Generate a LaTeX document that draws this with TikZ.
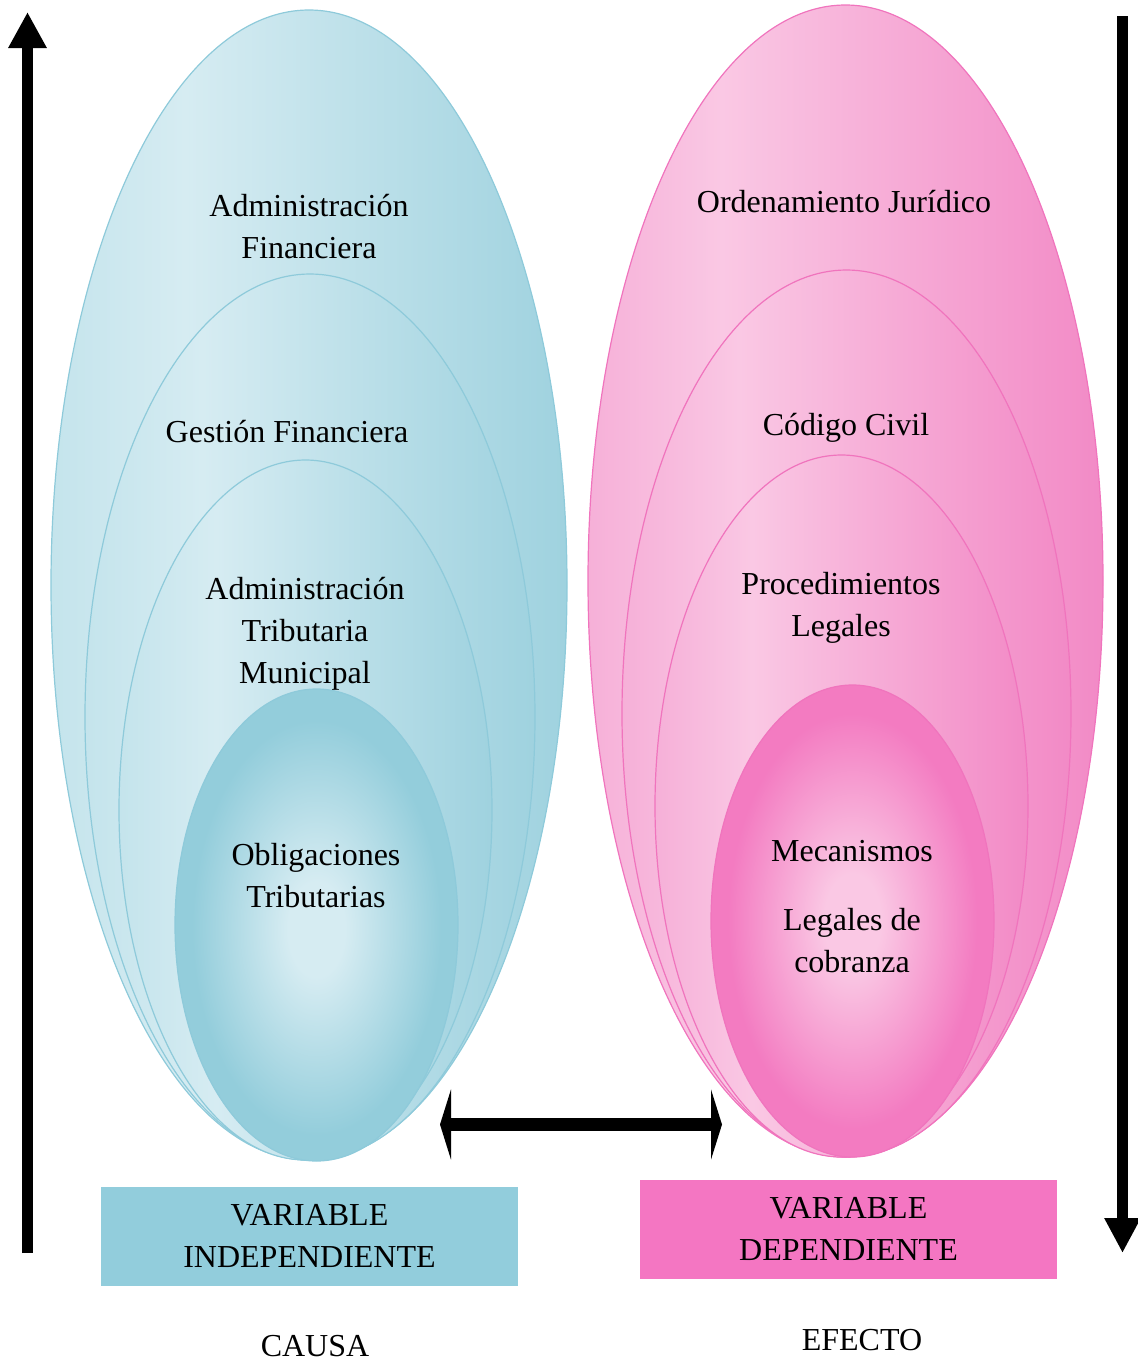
\documentclass[tikz,border=0pt]{standalone}
\usepackage{fontspec}
\setmainfont{Liberation Serif}
\usetikzlibrary{shapes.geometric,arrows.meta}
\definecolor{blight}{HTML}{D6ECF2}
\definecolor{bmid}{HTML}{C4E4EC}
\definecolor{bdark}{HTML}{9FD2DF}
\definecolor{binner}{HTML}{93CDDB}
\definecolor{bline}{HTML}{8ECADA}
\definecolor{bbox}{HTML}{92CDDC}
\definecolor{plight}{HTML}{FAC8E4}
\definecolor{pmid}{HTML}{F6B0D8}
\definecolor{pdark}{HTML}{F28AC6}
\definecolor{pinner}{HTML}{F37BC1}
\definecolor{pline}{HTML}{F074BD}
\definecolor{pbox}{HTML}{F476C2}
\pgfdeclarehorizontalshading{blueh}{100bp}{color(0bp)=(bmid); color(25bp)=(bmid); color(38bp)=(blight); color(75bp)=(bdark); color(100bp)=(bdark)}
\pgfdeclarehorizontalshading{pinkh}{100bp}{color(0bp)=(pmid); color(25bp)=(pmid); color(38bp)=(plight); color(75bp)=(pdark); color(100bp)=(pdark)}
\pgfdeclareradialshading{bluer}{\pgfpoint{0bp}{-0.5bp}}{color(0bp)=(blight); color(5bp)=(blight); color(22bp)=(binner); color(25bp)=(binner); color(50bp)=(binner)}
\pgfdeclareradialshading{pinkr}{\pgfpoint{0bp}{0bp}}{color(0bp)=(plight); color(5bp)=(plight); color(22bp)=(pinner); color(25bp)=(pinner); color(50bp)=(pinner)}
\tikzset{
  ellb/.style={ellipse, draw=bline, line width=1.2pt, shade, shading=blueh, inner sep=0pt},
  ellbi/.style={ellipse, draw=bline, line width=1.2pt, shade, shading=bluer, inner sep=0pt},
  ellp/.style={ellipse, draw=pline, line width=1.2pt, shade, shading=pinkh, inner sep=0pt},
  ellpi/.style={ellipse, draw=pline, line width=1.2pt, shade, shading=pinkr, inner sep=0pt},
  txt/.style={align=center, font=\fontsize{32pt}{42pt}\selectfont, inner sep=0pt},
  varbox/.style={minimum width=417pt, minimum height=99pt, inner sep=0pt, align=center, font=\fontsize{32pt}{42pt}\selectfont},
  bigarrow/.style={line width=11pt}
}
\begin{document}
\begin{tikzpicture}[x=1pt,y=-1pt]
\useasboundingbox (0,0) rectangle (1138,1361);
% blue side
\node[ellb, minimum width=516pt, minimum height=1150pt] (b1) at (309,585) {};
\node[ellb, minimum width=450pt, minimum height=886pt] (b2) at (310,717) {};
\node[ellb, minimum width=373pt, minimum height=700pt] (b3) at (305.5,810) {};
\node[ellbi, minimum width=283pt, minimum height=472pt] (b4) at (316.5,925) {};
% pink side
\node[ellp, minimum width=515pt, minimum height=1152pt] (p1) at (845.5,581) {};
\node[ellp, minimum width=449pt, minimum height=887pt] (p2) at (846.5,713.5) {};
\node[ellp, minimum width=373pt, minimum height=702pt] (p3) at (841.5,806) {};
\node[ellpi, minimum width=283pt, minimum height=472pt] (p4) at (852.5,921) {};
% texts
\node[txt] (t1) at (309,227) {Administración\\Financiera};
\node[txt] (t2) at (287,432) {Gestión Financiera};
\node[txt] (t3) at (305,634) {Administración\\Tributaria\\Municipal};
\node[txt] (t4) at (316,876) {Obligaciones\\Tributarias};
\node[txt] (s1) at (844,202) {Ordenamiento Jurídico};
\node[txt] (s2) at (846,428) {Código Civil};
\node[txt] (s3) at (841,608) {Procedimientos\\Legales};
\node[txt] (s4) at (852,907) {Mecanismos\\[27pt]Legales de\\cobranza};
% boxes
\node[varbox, fill=bbox] (vi) at (309.5,1236) {VARIABLE\\INDEPENDIENTE};
\node[varbox, fill=pbox] (vd) at (848.5,1229) {VARIABLE\\DEPENDIENTE};
\node[txt] (causa) at (315,1346) {CAUSA};
\node[txt] (efecto) at (862,1340) {EFECTO};
% arrows
\coordinate (lb) at (27.5,1253);
\coordinate (lt) at (27.5,12);
\draw[bigarrow, -{Triangle[length=36pt,width=36pt]}] (lb) -- (lt);
\coordinate (rt) at (1122.5,16);
\coordinate (rb) at (1122.5,1253);
\draw[bigarrow, -{Triangle[length=35pt,width=34pt]}] (rt) -- (rb);
\coordinate (dl) at (440,1124.5);
\coordinate (dr) at (722,1124.5);
\draw[line width=13pt, {Triangle[length=11pt,width=70pt]}-{Triangle[length=11pt,width=70pt]}] (dl) -- (dr);
\end{tikzpicture}
\end{document}
